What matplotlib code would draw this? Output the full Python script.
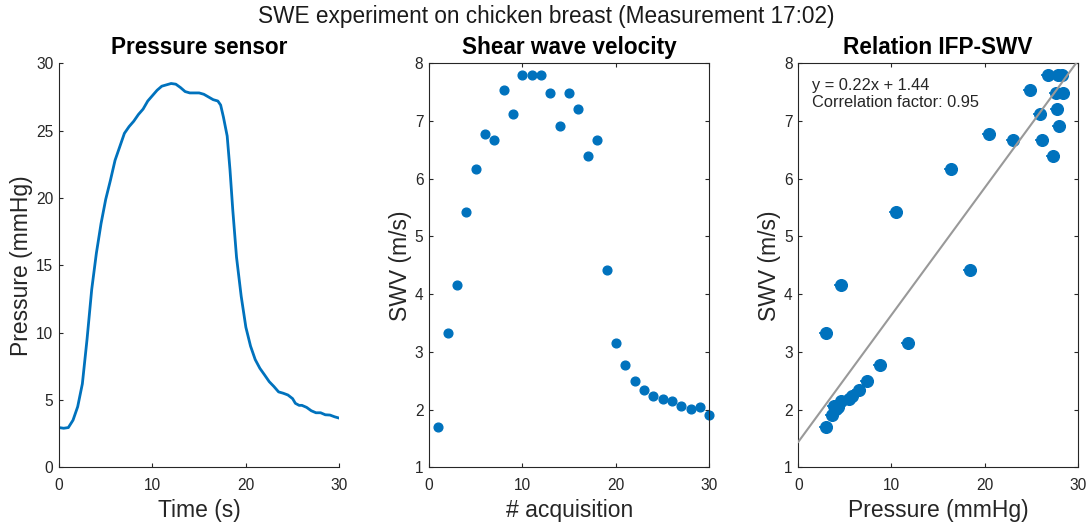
import numpy as np
import matplotlib
matplotlib.use("Agg")
import matplotlib.pyplot as plt

plt.rcParams['font.family'] = ['Liberation Sans', 'DejaVu Sans']

# ---- data ----
time_s = [0, 0.5, 1, 1.5, 2, 2.5, 3, 3.5, 4, 4.5, 5, 5.5, 6, 6.5, 7, 7.5, 8, 8.5, 9, 9.5,
          10, 10.5, 11, 11.5, 12, 12.5, 13, 13.5, 14, 15, 15.5, 16, 16.5, 17, 17.3, 17.6,
          18, 18.3, 18.6, 19, 19.5, 20, 20.5, 21, 21.5, 22, 22.5, 23, 23.5, 24, 24.5, 25,
          25.3, 25.7, 26, 26.5, 27, 27.5, 28, 28.5, 29, 29.5, 30]
pressure_mmHg = [2.95, 2.9, 2.95, 3.5, 4.5, 6.2, 9.5, 13.2, 15.9, 18.1, 19.9, 21.3, 22.8, 23.8,
                 24.8, 25.3, 25.7, 26.2, 26.6, 27.2, 27.6, 28.0, 28.3, 28.4, 28.5, 28.45, 28.2,
                 27.9, 27.8, 27.8, 27.7, 27.5, 27.3, 27.2, 26.9, 26.0, 24.6, 22.1, 19.1, 15.6,
                 12.7, 10.4, 9.0, 8.0, 7.35, 6.86, 6.36, 6.0, 5.6, 5.5, 5.37, 5.1, 4.75, 4.6,
                 4.6, 4.45, 4.2, 4.05, 4.05, 3.9, 3.88, 3.75, 3.65]

acquisition = list(range(1, 31))
swv = [1.69, 3.32, 4.16, 5.42, 6.16, 6.77, 6.67, 7.54, 7.13, 7.80,
       7.80, 7.80, 7.49, 6.92, 7.49, 7.20, 6.39, 6.67, 4.41, 3.16,
       2.77, 2.49, 2.34, 2.23, 2.18, 2.15, 2.06, 2.01, 2.04, 1.91]
pressure_at_acq = [2.94, 3.0, 4.62, 10.49, 16.43, 20.5, 23.06, 24.9, 25.96, 26.85,
                   27.9, 28.3, 28.4, 28.0, 27.7, 27.8, 27.4, 26.2, 18.4, 11.8,
                   8.77, 7.4, 6.55, 5.73, 5.4, 4.58, 3.83, 4.1, 4.3, 3.58]
fit_slope = 0.22
fit_intercept = 1.44
corr_factor = 0.95

blue = '#0072BD'
axcol = '#262626'

fig = plt.figure(figsize=(10.92, 5.27), dpi=100)
W, H = 1092, 527

def make_ax(x0, x1, y0=63.3, y1=467.3):
    return fig.add_axes([x0 / W, 1 - y1 / H, (x1 - x0) / W, (y1 - y0) / H])

ax1 = make_ax(59, 339.3)
ax2 = make_ax(429, 709.3)
ax3 = make_ax(798.3, 1077.7)

LBL = 16.5
TTL = 16.3
TCK = 11.2

for ax in (ax1, ax2, ax3):
    for s in ax.spines.values():
        s.set_color(axcol)
        s.set_linewidth(0.8)
    ax.tick_params(direction='in', length=3, width=0.8, colors=axcol, labelsize=TCK,
                   top=True, right=True)
    ax.tick_params(axis='x', pad=8)
    ax.tick_params(axis='y', pad=4)

# Panel 1
ax1.plot(time_s, pressure_mmHg, color=blue, lw=2)
ax1.set_xlim(0, 30)
ax1.set_ylim(0, 30)
ax1.set_xticks([0, 10, 20, 30])
ax1.set_yticks([0, 5, 10, 15, 20, 25, 30])
ax1.spines['top'].set_visible(False)
ax1.spines['right'].set_visible(False)
ax1.tick_params(top=False, right=False)
ax1.set_xlabel('Time (s)', fontsize=LBL, color=axcol, labelpad=4)
ax1.set_ylabel('Pressure (mmHg)', fontsize=LBL, color=axcol, labelpad=2)
ax1.set_title('Pressure sensor', fontsize=TTL, fontweight='bold', pad=7)

# Panel 2
ax2.plot(acquisition, swv, 'o', color=blue, ms=6.3, mec=blue, clip_on=False)
ax2.set_xlim(0, 30)
ax2.set_ylim(1, 8)
ax2.set_xticks([0, 10, 20, 30])
ax2.set_yticks(range(1, 9))
ax2.set_xlabel('# acquisition', fontsize=LBL, color=axcol, labelpad=4)
ax2.set_ylabel('SWV (m/s)', fontsize=LBL, color=axcol, labelpad=2)
ax2.set_title('Shear wave velocity', fontsize=TTL, fontweight='bold', pad=7)

# Panel 3
ax3.plot(pressure_at_acq, swv, 'o', color=blue, ms=8.4, mec=blue, zorder=2, clip_on=False)
ax3.plot(pressure_at_acq, swv, '_', color=blue, ms=10.5, mew=1.2, zorder=2, clip_on=False)
xx = np.array([0, 30])
ax3.plot(xx, fit_slope * xx + fit_intercept, color='#999999', lw=1.5, zorder=3)
ax3.set_xlim(0, 30)
ax3.set_ylim(1, 8)
ax3.set_xticks([0, 10, 20, 30])
ax3.set_yticks(range(1, 9))
ax3.set_xlabel('Pressure (mmHg)', fontsize=LBL, color=axcol, labelpad=4)
ax3.set_ylabel('SWV (m/s)', fontsize=LBL, color=axcol, labelpad=2)
ax3.set_title('Relation IFP-SWV', fontsize=TTL, fontweight='bold', pad=7)
ax3.text(1.44, 7.62, f'y = {fit_slope:.2f}x + {fit_intercept:.2f}', fontsize=11.8,
         color=axcol, va='center', ha='left')
ax3.text(1.44, 7.32, f'Correlation factor: {corr_factor:.2f}', fontsize=11.8,
         color=axcol, va='center', ha='left')

fig.suptitle('SWE experiment on chicken breast (Measurement 17:02)', fontsize=16.3,
             y=1 - 17 / H, va='center', color='#1a1a1a')

fig.savefig('out.png', dpi=100, facecolor='white')
